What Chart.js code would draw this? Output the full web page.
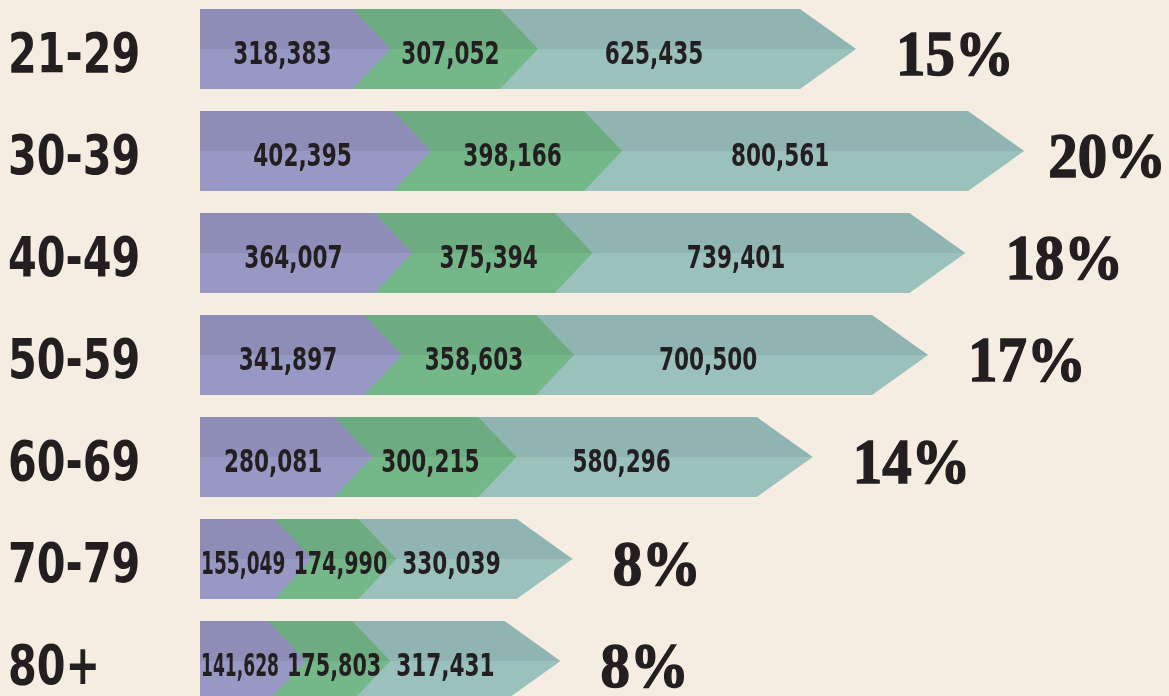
<!DOCTYPE html>
<html>
<head>
<meta charset="utf-8">
<script src="https://cdn.jsdelivr.net/npm/chart.js@4.4.1/dist/chart.umd.min.js"></script>
<style>
    html, body { margin: 0; padding: 0; background: #f5ede1; overflow: hidden; }
    #wrap { position: relative; width: 1169px; height: 696px; overflow: hidden; }
    #chart { position: absolute; left: 0; top: -2px; }
</style>
</head>
<body>
<div id="wrap"><canvas id="chart" width="1169" height="714"></canvas></div>
<script>
// values as printed on the arrows
const ageGroups = ['21-29', '30-39', '40-49', '50-59', '60-69', '70-79', '80+'];
const firstValues = [318383, 402395, 364007, 341897, 280081, 155049, 141628];
const secondValues = [307052, 398166, 375394, 358603, 300215, 174990, 175803];
const totalValues = [625435, 800561, 739401, 700500, 580296, 330039, 317431];
const shareValues = [15, 20, 18, 17, 14, 8, 8];

const narrowFont = "'DejaVu Sans Condensed', 'DejaVu Sans', sans-serif";
const serifFont = "'Liberation Serif', 'DejaVu Serif', serif";
const ink = '#231f20';

// top half / bottom half colours, arrow tip depth, label nudge
const looks = [
    { top: '#8e8db7', bottom: '#9898c5', tip: 38, shift: 6 },
    { top: '#6dab80', bottom: '#74b889', tip: 38, shift: 24 },
    { top: '#90b4b1', bottom: '#9bc1bd', tip: 56, shift: 4 }
];

// squeeze the condensed font to look like the narrow DIN of the original
function narrowText(ctx, text, x, y, squeeze, limit) {
    let w = ctx.measureText(text).width * squeeze;
    if (limit) w = Math.min(w, limit);
    ctx.fillText(text, x, y, w);
    return w;
}

const chevrons = {
    id: 'chevrons',
    afterDatasetsDraw(chart) {
        const ctx = chart.ctx;
        const count = chart.data.datasets.length;
        const yScale = chart.scales.y;
        ctx.save();

        // back to front so every tip lies over the next segment
        for (let d = count - 1; d >= 0; d--) {
            const look = looks[d];
            chart.getDatasetMeta(d).data.forEach(function(bar) {
                const p = bar.getProps(['x', 'y', 'base', 'height'], true);
                const top = p.y - p.height / 2;
                const bottom = p.y + p.height / 2;
                const grad = ctx.createLinearGradient(0, top, 0, bottom);
                grad.addColorStop(0, look.top);
                grad.addColorStop(0.5, look.top);
                grad.addColorStop(0.5, look.bottom);
                grad.addColorStop(1, look.bottom);
                ctx.beginPath();
                ctx.moveTo(p.base, top);
                ctx.lineTo(p.x, top);
                ctx.lineTo(p.x + look.tip, p.y);
                ctx.lineTo(p.x, bottom);
                ctx.lineTo(p.base, bottom);
                ctx.closePath();
                ctx.fillStyle = grad;
                ctx.fill();
            });
        }

        ctx.fillStyle = ink;
        ctx.textBaseline = 'alphabetic';

        // age groups on the left
        ctx.textAlign = 'left';
        ctx.font = 'bold 56px ' + narrowFont;
        ageGroups.forEach(function(label, i) {
            const y = yScale.getPixelForTick(i);
            narrowText(ctx, label, 8, y + 23, 0.82);
        });

        // numbers inside the arrows
        ctx.textAlign = 'center';
        ctx.font = 'bold 32px ' + narrowFont;
        for (let d = 0; d < count; d++) {
            const look = looks[d];
            const values = chart.data.datasets[d].data;
            chart.getDatasetMeta(d).data.forEach(function(bar, i) {
                const p = bar.getProps(['x', 'y', 'base'], true);
                const seg = p.x - p.base;
                const text = values[i].toLocaleString('en-US');
                const limit = d < count - 1 ? seg + 10 : null;
                let w = Math.min(ctx.measureText(text).width * 0.75, limit || 1e9);
                let cx = (p.x + p.base) / 2 + look.shift;
                if (d === count - 1) cx = Math.max(cx, p.base + looks[d - 1].tip + w / 2 + 6);
                narrowText(ctx, text, cx, p.y + 14.5, 0.75, limit);
            });
        }

        // share of all ages after the last tip
        ctx.font = 'bold 64px ' + serifFont;
        ctx.textAlign = 'left';
        ctx.strokeStyle = ink;
        ctx.lineWidth = 1.5;
        chart.getDatasetMeta(count - 1).data.forEach(function(bar, i) {
            const p = bar.getProps(['x', 'y'], true);
            const text = shareValues[i] + '%';
            const tw = ctx.measureText(text).width * 0.92;
            const tx = Math.min(p.x + looks[count - 1].tip + 40, chart.width - tw - 3);
            ctx.fillText(text, tx, p.y + 26, tw);
            ctx.strokeText(text, tx, p.y + 26, tw);
        });

        ctx.restore();
    }
};

const ctx = document.getElementById('chart').getContext('2d');

new Chart(ctx, {
    type: 'bar',
    data: {
        labels: ageGroups,
        datasets: [
            { data: firstValues, backgroundColor: 'rgba(0,0,0,0)', barThickness: 80 },
            { data: secondValues, backgroundColor: 'rgba(0,0,0,0)', barThickness: 80 },
            { data: totalValues, backgroundColor: 'rgba(0,0,0,0)', barThickness: 80 }
        ]
    },
    options: {
        indexAxis: 'y',
        responsive: false,
        animation: false,
        devicePixelRatio: 1,
        layout: { padding: { left: 200, right: 0, top: 0, bottom: 0 } },
        plugins: {
            legend: { display: false },
            tooltip: { enabled: false }
        },
        scales: {
            x: {
                stacked: true,
                display: false,
                min: 0,
                max: 2020000
            },
            y: {
                stacked: true,
                display: false
            }
        }
    },
    plugins: [chevrons]
});
</script>
</body>
</html>
